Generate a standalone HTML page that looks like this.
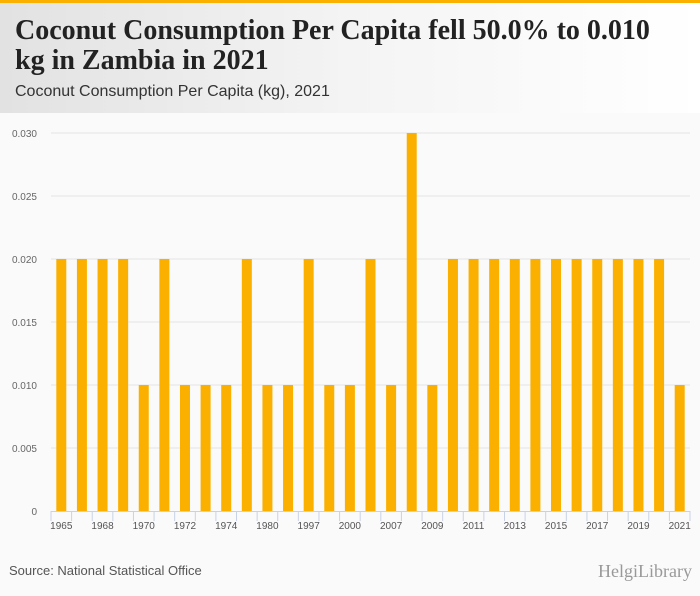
<!DOCTYPE html>
<html><head><meta charset="utf-8"><style>
body{margin:0;width:700px;height:596px;background:#fafafa;font-family:"Liberation Sans",sans-serif;position:relative;overflow:hidden}
#hdr{position:absolute;left:0;top:0;width:700px;height:113px;background:linear-gradient(90deg,#e2e2e2,#f4f4f4 50%,#fff);border-top:3px solid #fbb000;box-sizing:border-box}
#title{position:absolute;left:15px;top:13px;font-family:"Liberation Serif",serif;font-weight:bold;font-size:28px;line-height:30px;color:#222;letter-spacing:0px;white-space:nowrap}
#sub{position:absolute;left:15px;top:80px;font-size:16px;color:#333}
#src{position:absolute;left:9px;top:563px;font-size:13px;color:#555}
#logo{position:absolute;left:598px;top:561px;font-family:"Liberation Serif",serif;font-size:18px;color:#999}
</style></head><body>
<div id="hdr">
<div id="title">Coconut Consumption Per Capita fell 50.0% to 0.010<br>kg in Zambia in 2021</div>
<div id="sub">Coconut Consumption Per Capita (kg), 2021</div>
</div>
<svg id="chart" width="700" height="596" style="position:absolute;left:0;top:0"></svg>
<div id="src">Source: National Statistical Office</div>
<div id="logo">HelgiLibrary</div>
<script>
const categories=["1965","1967","1968","1969","1970","1971","1972","1973","1974","1975","1980","1981","1997","1998","2000","2001","2007","2008","2009","2010","2011","2012","2013","2014","2015","2016","2017","2018","2019","2020","2021"];
const values=[0.02,0.02,0.02,0.02,0.01,0.02,0.01,0.01,0.01,0.02,0.01,0.01,0.02,0.01,0.01,0.02,0.01,0.03,0.01,0.02,0.02,0.02,0.02,0.02,0.02,0.02,0.02,0.02,0.02,0.02,0.01];
const yTicks=[0,0.005,0.01,0.015,0.02,0.025,0.03];
const yTickLabels=["0","0.005","0.010","0.015","0.020","0.025","0.030"];
const NS="http://www.w3.org/2000/svg";
const svg=document.getElementById('chart');
const L=51,R=690,T=133,B=511,yMax=0.03;
const bw=(R-L)/categories.length;
const y=v=>B-(v/yMax)*(B-T);
const x=i=>L+bw*i;
function mk(t,a){const e=document.createElementNS(NS,t);for(const k in a)e.setAttribute(k,a[k]);svg.appendChild(e);return e;}
yTicks.forEach((v,i)=>{
 if(v>0){const g=mk('line',{x1:L,x2:R,y1:y(v),y2:y(v),stroke:'#e4e4e4','stroke-width':1});
 
 }
 const t=mk('text',{x:37,y:y(v)+4,'text-anchor':'end','font-size':10,fill:'#666','font-family':'Liberation Sans, sans-serif'});
 t.textContent=yTickLabels[i];
 
 
});
values.forEach((v,i)=>{
 const r=mk('rect',{x:x(i)+bw/2-5,y:y(v),width:10,height:B-y(v),fill:'#fbb000'});
 
 
});
const ax=mk('line',{x1:L,x2:R,y1:B+0.5,y2:B+0.5,stroke:'#c8d2e6','stroke-width':1});


for(let i=0;i<=categories.length;i++){
 const tk=mk('line',{x1:x(i),x2:x(i),y1:B,y2:B+10,stroke:'#c8d2e6','stroke-width':1});
 
 
}
categories.forEach((c,i)=>{
 if(i%2)return;
 const t=mk('text',{x:x(i)+bw/2,y:B+18,'text-anchor':'middle','font-size':10,fill:'#555','font-family':'Liberation Sans, sans-serif'});
 t.textContent=c;
 
 
});
</script>
</body></html>
